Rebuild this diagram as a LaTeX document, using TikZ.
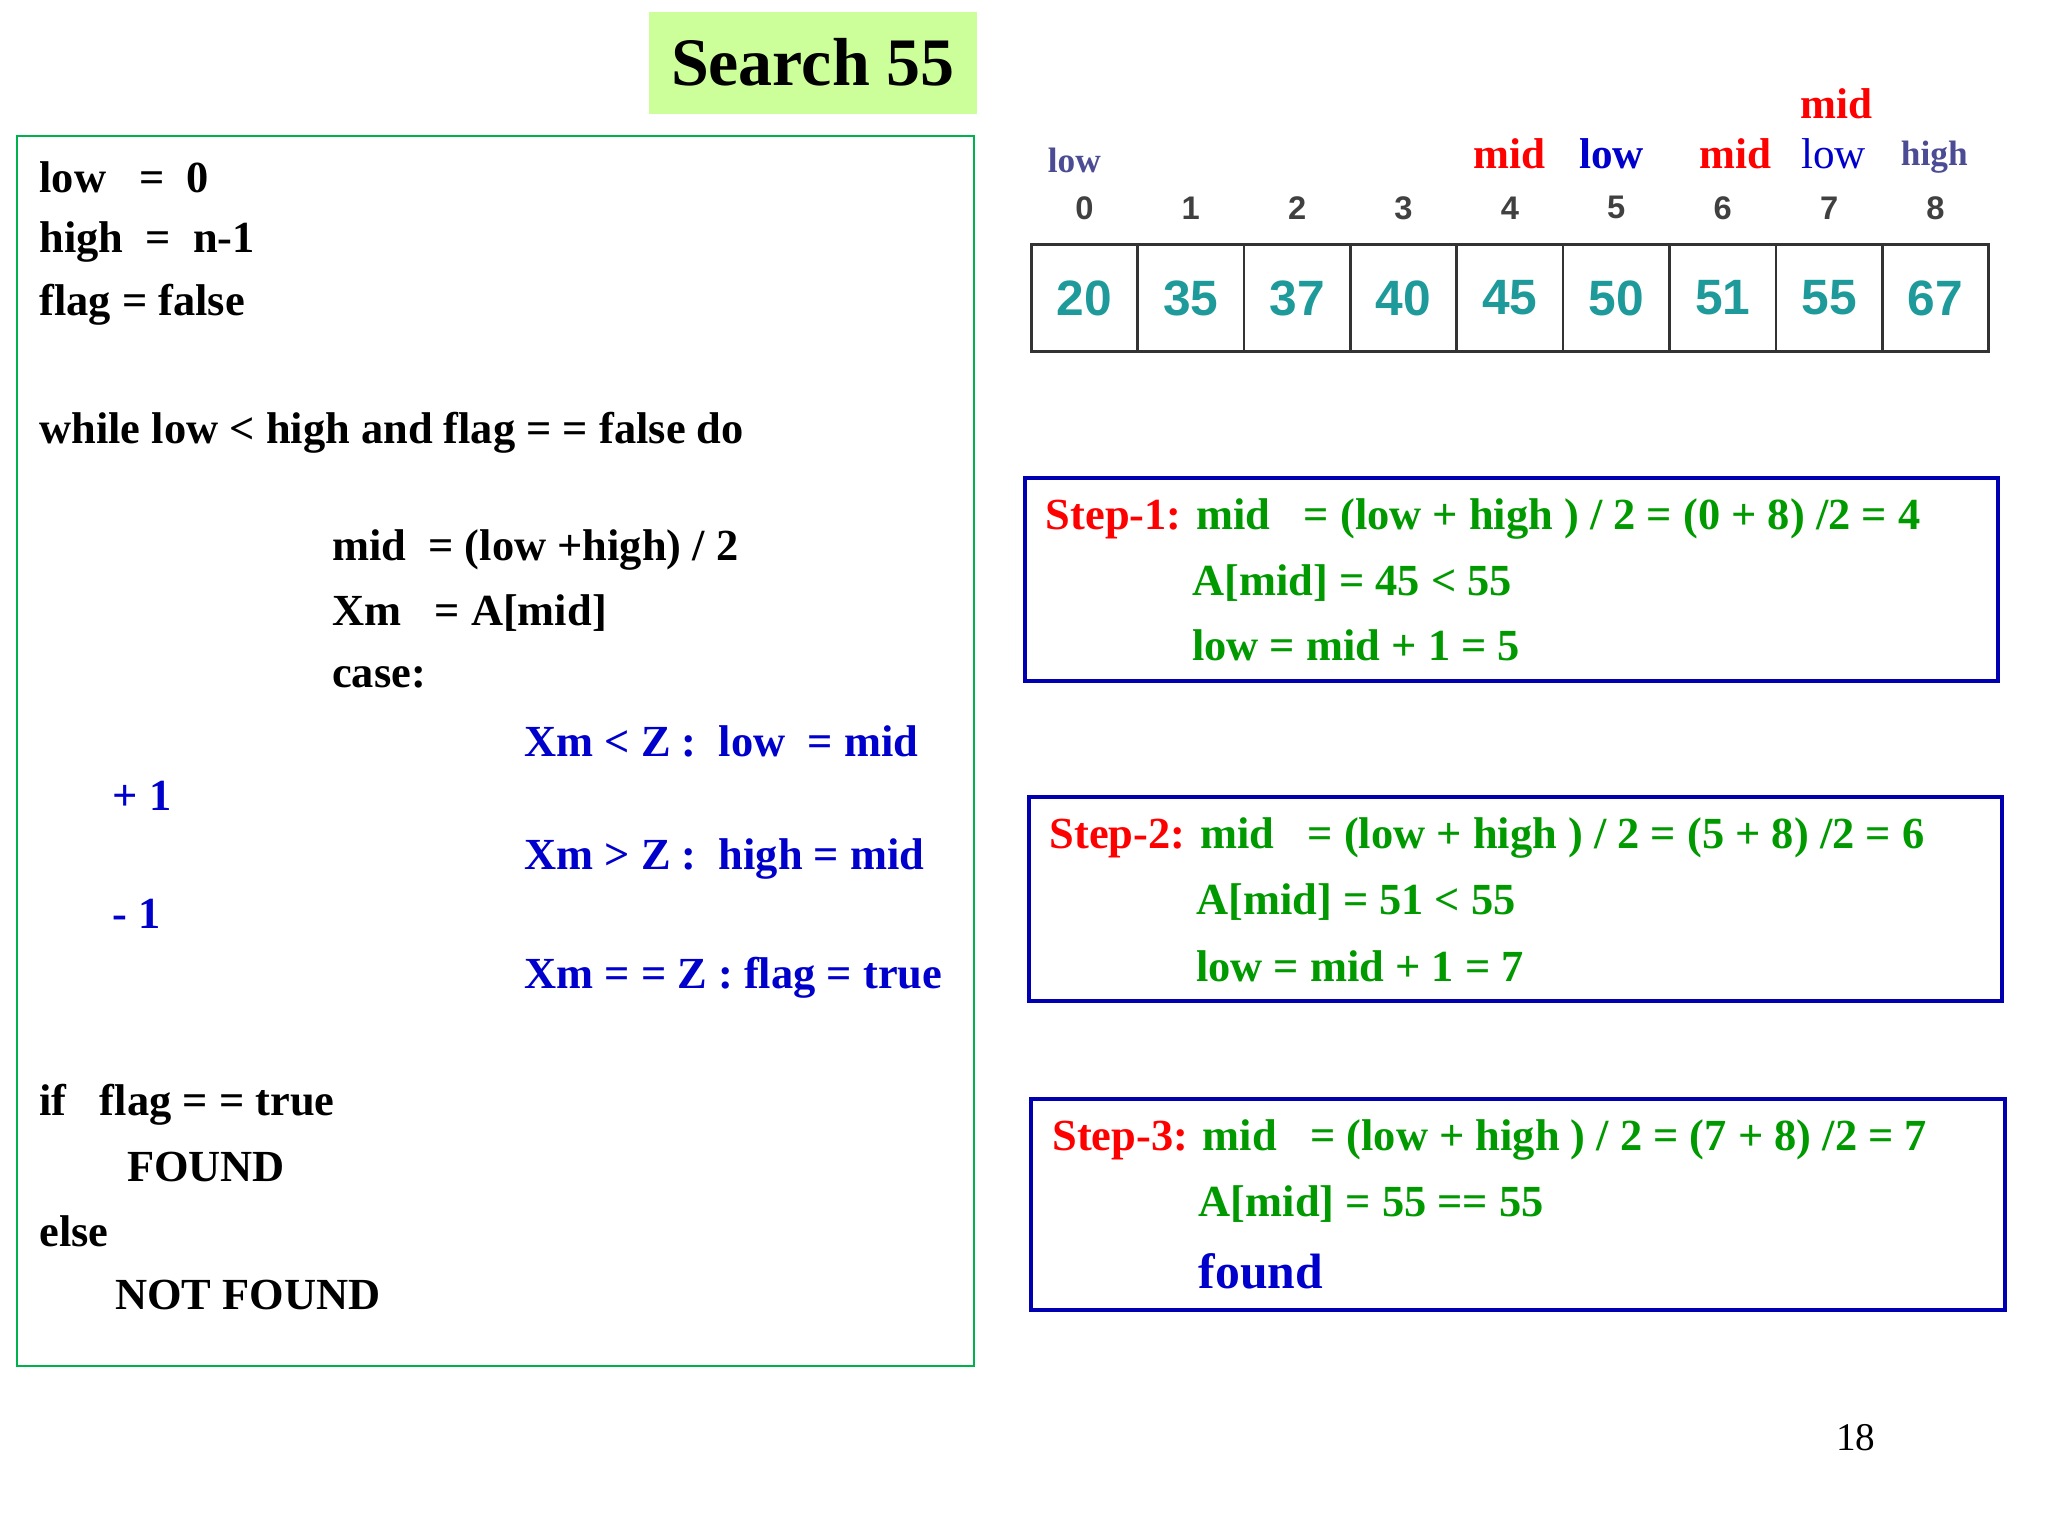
\documentclass[tikz,border=0pt]{standalone}
\usepackage{fontspec}
\setmainfont{Liberation Serif}
\newfontfamily\arial{Liberation Sans}
\definecolor{titlebg}{HTML}{CCFF99}
\definecolor{cellnum}{HTML}{1E9A9A}
\begin{document}
\begin{tikzpicture}[x=1pt,y=-1pt,
 code/.style={anchor=west,inner sep=0pt,font=\fontsize{34}{38}\selectfont\bfseries},
 blue/.style={text=blue!80!black},
 grn/.style={text=green!60!black},
 stepbox/.style={draw=blue!70!black,line width=3pt},
 cell/.style={draw=black!80,line width=2pt,minimum width=81.4pt,minimum height=82pt,inner sep=0pt,font=\arial\bfseries\fontsize{38}{40}\selectfont,text=cellnum},
 idx/.style={inner sep=0pt,font=\arial\bfseries\fontsize{25}{27}\selectfont,text=black!75},
 lab/.style={inner sep=0pt,font=\bfseries\fontsize{33}{35}\selectfont}]
\useasboundingbox (0,0) rectangle (1567,1175);
\node[fill=titlebg,minimum width=251pt,minimum height=78pt,font=\bfseries\fontsize{52}{54}\selectfont] (title) at (622,48) {Search 55};
\draw[draw=teal!60!green,line width=1.5pt] (13,104) rectangle (745,1045);
\node[code] (c1) at (30,136) {low \ \ = \ 0};
\node[code] (c2) at (30,185) {high \ = \ n-1};
\node[code] (c3) at (30,233) {flag = false};
\node[code] (c4) at (30,331) {while low < high and flag = = false do};
\node[code] (c5) at (254,421) {mid \ = (low +high) / 2};
\node[code] (c6) at (254,469) {Xm \ \ = A[mid]};
\node[code] (c7) at (254,518) {case:};
\node[code,blue] (c8) at (401,567) {Xm < Z : \ low \ = mid};
\node[code,blue] (c9) at (86,609) {+ 1};
\node[code,blue] (c10) at (401,657) {Xm > Z : \ high = mid};
\node[code,blue] (c11) at (86,699) {- 1};
\node[code,blue] (c12) at (401,748) {Xm = = Z : flag = true};
\node[code] (c13) at (30,845) {if \ \ flag = = true};
\node[code] (c14) at (97,893) {FOUND};
\node[code] (c15) at (30,942) {else};
\node[code] (c16) at (88,991) {NOT FOUND};
\foreach \v [count=\i from 0] in {20,35,37,40,45,50,51,55,67}{
 \node[cell] (a\i) at (789+40.7+81.4*\i,228) {\v};
 \node[idx] (i\i) at (789+40.7+81.4*\i,159) {\i};
}
\node[lab,text=blue!40!black!70,font=\bfseries\fontsize{27}{29}\selectfont] (l0) at (822,123) {low};
\node[lab,text=red] (m1) at (1155,118) {mid};
\node[lab,text=blue!80!black] (l1) at (1233,118) {low};
\node[lab,text=red] (m2) at (1328,118) {mid};
\node[lab,text=red] (m3) at (1405,79) {mid};
\node[lab,text=blue!80!black,font=\fontsize{33}{35}\selectfont] (l2) at (1403,118) {low};
\node[lab,text=blue!40!black!70,font=\bfseries\fontsize{27}{29}\selectfont] (h0) at (1480,120) {high};
\draw[stepbox] (784,366) rectangle (1529,521);
\draw[stepbox] (787,610) rectangle (1532,766);
\draw[stepbox] (789,841) rectangle (1534,1002);
\node[code,grn] (s1) at (800,397) {\textcolor{red}{Step-1:} mid \ \ = (low + high ) / 2 = (0 + 8) /2 = 4};
\node[code,grn] (s1b) at (912,446) {A[mid] = 45 < 55};
\node[code,grn] (s1c) at (912,494) {low = mid + 1 = 5};
\node[code,grn] (s2) at (803,641) {\textcolor{red}{Step-2:} mid \ \ = (low + high ) / 2 = (5 + 8) /2 = 6};
\node[code,grn] (s2b) at (915,690) {A[mid] = 51 < 55};
\node[code,grn] (s2c) at (915,739) {low = mid + 1 = 7};
\node[code,grn] (s3) at (805,872) {\textcolor{red}{Step-3:} mid \ \ = (low + high ) / 2 = (7 + 8) /2 = 7};
\node[code,grn] (s3b) at (917,921) {A[mid] = 55 == 55};
\node[code,blue,font=\fontsize{38}{40}\selectfont\bfseries] (s3c) at (917,973) {found};
\node[inner sep=0pt,font=\fontsize{30}{32}\selectfont] (pg) at (1420,1100) {18};
\end{tikzpicture}
\end{document}
